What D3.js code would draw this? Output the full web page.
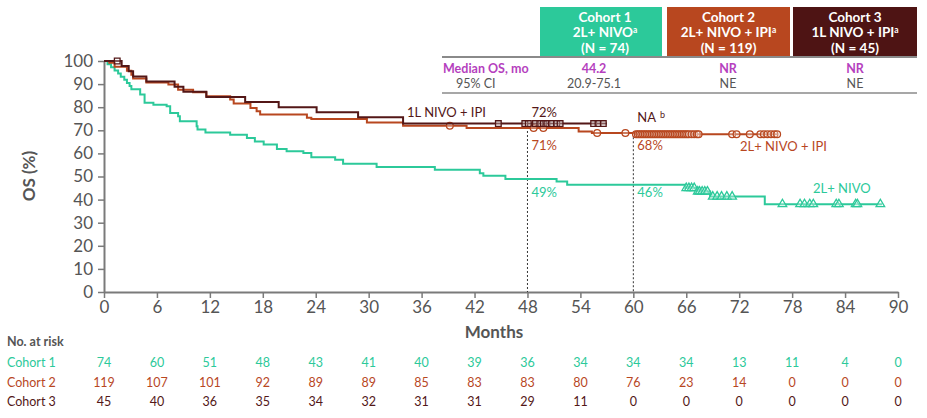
<!DOCTYPE html>
<html><head><meta charset="utf-8">
<script src="https://cdn.jsdelivr.net/npm/d3@7"></script>
<style>body{margin:0;background:#fff}svg{display:block;font-family:Lato,"Open Sans",sans-serif}</style>
</head><body><svg id="c" width="927" height="418"></svg>
<script>
// ---- data ----
const xTicks = [0,6,12,18,24,30,36,42,48,54,60,66,72,78,84,90];
const yTicks = [0,10,20,30,40,50,60,70,80,90,100];
const cohortNames = ["Cohort 1","Cohort 2","Cohort 3"];
const cohortLines = [["2L+ NIVO","(N = 74)"],["2L+ NIVO + IPI","(N = 119)"],["1L NIVO + IPI","(N = 45)"]];
const medianOS = ["44.2","NR","NR"];
const ci95 = ["20.9-75.1","NE","NE"];
const risk1 = [74,60,51,48,43,41,40,39,36,34,34,34,13,11,4,0];
const risk2 = [119,107,101,92,89,89,85,83,83,80,76,23,14,0,0,0];
const risk3 = [45,40,36,35,34,32,31,31,29,11,0,0,0,0,0,0];
// KM steps: [month, OS%]
const km1 = [[0,100],[0.4,98.6],[0.8,97.3],[1.2,95.9],[1.6,94.6],[1.9,93.2],[2.3,91.9],[2.6,90.5],[2.9,89.2],[3.1,87.8],[4.1,85.5],[4.6,81.9],[5.6,81.1],[7.1,80.4],[7.5,77.5],[8.4,76.1],[8.6,73.9],[10.5,71.7],[10.6,70.3],[11.5,69.1],[14.3,68.1],[16.2,66.7],[17.1,65.2],[18.1,63.8],[19.6,61.9],[20.7,60.9],[22.6,60.2],[23.5,58.3],[26.2,57.3],[27.1,55.5],[30.9,54.1],[37.5,52.9],[42.6,51.4],[43.0,50.3],[45.5,48.9],[51.3,47.8],[52.5,46.4],[65.9,45.0],[67.2,43.5],[68.7,41.3],[74.9,38.0],[88.2,38.0]];
const km2 = [[0,100],[0.6,99.2],[1.2,97.5],[2.6,95.8],[3.1,94.1],[3.3,92.4],[4.8,90.7],[7.3,89.8],[8.4,87.6],[10.1,86.5],[11.6,84.7],[14.3,83.3],[14.7,81.6],[16.6,79.7],[17.3,78.2],[17.7,76.8],[23.0,75.4],[23.5,74.9],[29.8,73.4],[33.9,72.0],[41.1,71.0],[53.8,69.5],[55.3,68.8],[60.2,68.3],[76.3,68.3]];
const km3 = [[0,100],[2.0,97.8],[2.8,95.6],[3.3,93.3],[4.8,91.1],[8.0,88.9],[9.0,86.7],[11.6,84.4],[16.0,82.2],[19.8,80.0],[24.1,77.8],[28.8,75.6],[33.9,72.9],[57.0,72.9]];
const cens1 = [66.0,66.3,66.6,66.9,67.3,67.5,67.8,68.1,68.4,69.0,69.5,70.0,70.6,71.2,76.9,78.9,79.4,80.0,80.4,83.0,83.3,85.2,85.4,88.0];
const cens2 = [39.2,48.7,49.8,55.9,59.1,60.3,60.5,60.7,60.9,61.1,61.3,61.5,61.7,61.9,62.1,62.3,62.5,62.7,62.9,63.1,63.3,63.5,63.7,63.9,64.1,64.3,64.5,64.7,64.9,65.1,65.3,65.5,65.7,65.9,66.1,66.3,66.6,66.9,67.2,67.4,71.2,71.7,73.2,74.4,74.8,75.2,75.6,76.0,76.3];
const cens3 = [1.5,44.7,47.7,48.1,48.9,49.4,49.8,50.2,50.7,51.3,51.7,55.5,56.0,56.6];

const C1 = "#2cc99a", C2 = "#b8471f", C3 = "#531717", GR = "#555", AX = "#7a7a7a", MAG = "#b53fbe";

const svg = d3.select("#c");
const x = d3.scaleLinear().domain([0,90]).range([104,898]);
const y = d3.scaleLinear().domain([0,100]).range([292,61]);

// axes
const xAxis = svg.append("g").attr("transform","translate(0,292)")
  .call(d3.axisBottom(x).tickValues(xTicks).tickSize(6).tickPadding(3).tickSizeOuter(0));
const yAxis = svg.append("g").attr("transform","translate(104,0)")
  .call(d3.axisLeft(y).tickValues(yTicks).tickSize(6).tickPadding(5).tickSizeOuter(0));
[xAxis,yAxis].forEach(g=>{
  g.select(".domain").attr("stroke",AX).attr("stroke-width",2);
  g.selectAll(".tick line").attr("stroke",AX).attr("stroke-width",1.5);
  g.selectAll(".tick text").attr("fill",GR).attr("font-size",17).attr("font-family","Lato");
});
svg.append("text").attr("x",494).attr("y",338).attr("text-anchor","middle")
  .attr("font-size",17).attr("font-weight","bold").attr("fill",GR).text("Months");
svg.append("text").attr("transform","translate(35,176) rotate(-90)").attr("text-anchor","middle")
  .attr("font-size",17).attr("font-weight","bold").attr("fill",GR).text("OS (%)");

// dashed reference lines
svg.append("line").attr("x1",x(48)).attr("x2",x(48)).attr("y1",y(71)+3).attr("y2",y(0))
  .attr("stroke","#333").attr("stroke-width",1).attr("stroke-dasharray","2,2");
svg.append("line").attr("x1",x(60)).attr("x2",x(60)).attr("y1",y(68.3)+3).attr("y2",y(0))
  .attr("stroke","#333").attr("stroke-width",1).attr("stroke-dasharray","2,2");

// curves
const line = d3.line().x(d=>x(d[0])).y(d=>y(d[1])).curve(d3.curveStepAfter);
function survAt(km,t){let v=km[0][1];for(const p of km){if(p[0]<=t)v=p[1];}return v;}
const series = [{km:km1,c:C1,cens:cens1,sym:d3.symbolTriangle,size:32},
                {km:km2,c:C2,cens:cens2,sym:d3.symbolCircle,size:36},
                {km:km3,c:C3,cens:cens3,sym:d3.symbolSquare,size:32}];
series.forEach(s=>{
  svg.append("path").attr("d",line(s.km)).attr("fill","none").attr("stroke",s.c).attr("stroke-width",2);
  svg.append("g").selectAll("path").data(s.cens).join("path")
    .attr("transform",t=>`translate(${x(t)},${y(survAt(s.km,t))})`)
    .attr("d",d3.symbol().type(s.sym).size(s.size))
    .attr("fill","#fff").attr("fill-opacity",0.3).attr("stroke",s.c).attr("stroke-width",1.3);
});

// curve annotations
function lab(t,xx,yy,col,anchor){return svg.append("text").attr("x",xx).attr("y",yy).attr("font-size",13)
  .attr("fill",col).attr("text-anchor",anchor||"start").text(t);}
lab("1L NIVO + IPI",407,117,C3);
lab("72%",x(48)+4,117,C3);
lab("71%",x(48)+4,150,C2);
lab("68%",x(60)+4,150,C2);
const na = lab("NA",x(60)+4,122,C3);
na.append("tspan").attr("font-size",9).attr("dx",4).attr("dy",-4).text("b");
lab("49%",x(48)+4,197,C1);
lab("46%",x(60)+4,197,C1);
lab("2L+ NIVO + IPI",740,151,C2);
lab("2L+ NIVO",813,193,C1);

// header table
const boxX = [540,667,793], boxW = [122,123,124], boxC = [C1,C2,"#4e1414"];
cohortNames.forEach((n,i)=>{
  svg.append("rect").attr("x",boxX[i]).attr("y",7).attr("width",boxW[i]).attr("height",49).attr("fill",boxC[i]);
  const cx = boxX[i]+boxW[i]/2 + (i===0?4:0);
  const g = svg.append("g").attr("fill","#fff").attr("font-weight","bold").attr("font-size",13.5).attr("text-anchor","middle");
  g.append("text").attr("x",cx).attr("y",22).text(n);
  const t2 = g.append("text").attr("x",cx).attr("y",37);
  t2.append("tspan").text(cohortLines[i][0]);
  t2.append("tspan").attr("font-size",8.5).attr("dy",-4).text("a");
  g.append("text").attr("x",cx).attr("y",53).text(cohortLines[i][1]);
});
svg.append("line").attr("x1",442).attr("x2",917).attr("y1",57).attr("y2",57).attr("stroke","#8a8a8a").attr("stroke-width",2);
svg.append("line").attr("x1",442).attr("x2",917).attr("y1",93).attr("y2",93).attr("stroke","#8a8a8a").attr("stroke-width",1.5);
svg.append("text").attr("x",443).attr("y",73).attr("font-size",12.5).attr("font-weight","bold").attr("fill",MAG).text("Median OS, mo");
svg.append("text").attr("x",456).attr("y",88).attr("font-size",12.5).attr("fill",GR).text("95% CI");
const valX = [594,728,855];
medianOS.forEach((v,i)=>svg.append("text").attr("x",valX[i]).attr("y",73).attr("text-anchor","middle")
  .attr("font-size",12.5).attr("font-weight","bold").attr("fill",MAG).text(v));
ci95.forEach((v,i)=>svg.append("text").attr("x",valX[i]).attr("y",88).attr("text-anchor","middle")
  .attr("font-size",12.5).attr("fill",GR).text(v));

// risk table
svg.append("text").attr("x",7).attr("y",346).attr("font-size",12.5).attr("font-weight","bold").attr("fill",GR).text("No. at risk");
const rows = [{d:risk1,c:C1,yy:367},{d:risk2,c:C2,yy:387},{d:risk3,c:C3,yy:406}];
rows.forEach((r,i)=>{
  svg.append("text").attr("x",7).attr("y",r.yy).attr("font-size",12.5).attr("fill",r.c).text(cohortNames[i]);
  svg.append("g").selectAll("text").data(r.d).join("text")
    .attr("x",(d,j)=>x(xTicks[j])).attr("y",r.yy).attr("text-anchor","middle")
    .attr("font-size",12.5).attr("fill",r.c).text(d=>d);
});
</script></body></html>
